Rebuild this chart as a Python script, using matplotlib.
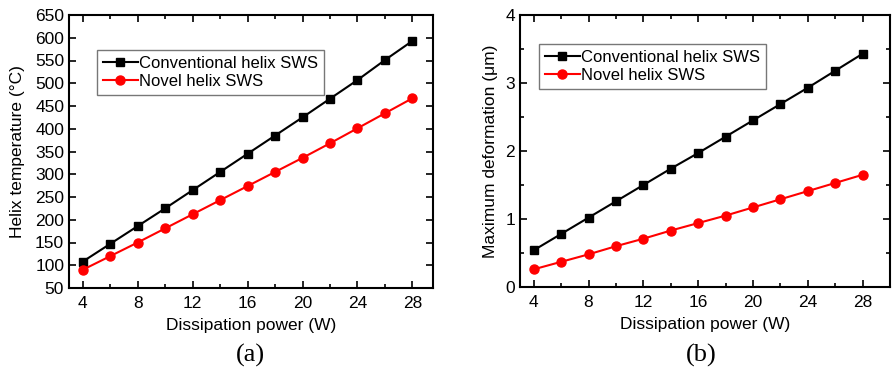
import matplotlib
matplotlib.use('Agg')
import matplotlib.pyplot as plt
from matplotlib.ticker import MultipleLocator

plt.rcParams['font.family'] = ['Liberation Sans', 'DejaVu Sans']

power = [4, 6, 8, 10, 12, 14, 16, 18, 20, 22, 24, 26, 28]

# (a) helix temperature, degC
temp_conv = [108, 147, 186, 225, 265, 305, 345, 385, 425, 466, 507, 551, 593]
temp_novel = [90, 120, 150, 181, 212, 243, 274, 305, 336, 368, 401, 434, 467]

# (b) maximum deformation, um
def_conv = [0.54, 0.78, 1.02, 1.26, 1.50, 1.74, 1.97, 2.21, 2.45, 2.69, 2.93, 3.18, 3.43]
def_novel = [0.26, 0.37, 0.48, 0.60, 0.71, 0.83, 0.94, 1.05, 1.17, 1.29, 1.41, 1.53, 1.65]

labels = ['Conventional helix SWS', 'Novel helix SWS']

fig = plt.figure(figsize=(8.92, 3.74), dpi=100)
axA = fig.add_axes([69/892, 1-288/374, (433-69)/892, (288-15)/374])
axB = fig.add_axes([520/892, 1-287/374, (890-520)/892, (287-15)/374])


def style(ax):
    for s in ax.spines.values():
        s.set_linewidth(1.5)
    ax.tick_params(which='both', direction='in', top=True, right=True,
                   labelsize=12.5, width=1.2)
    ax.tick_params(which='major', length=5)
    ax.tick_params(which='minor', length=3)
    ax.tick_params(axis='x', pad=6)
    ax.xaxis.set_major_locator(MultipleLocator(4))
    ax.xaxis.set_minor_locator(MultipleLocator(2))
    ax.set_xlabel('Dissipation power (W)', fontsize=12.5, labelpad=5)


def legend(ax, loc):
    leg = ax.legend(loc='upper left', bbox_to_anchor=loc, fontsize=12,
                    frameon=True, fancybox=False, handlelength=2.1,
                    handletextpad=0.05, borderpad=0.35, labelspacing=0.2,
                    borderaxespad=0)
    leg.get_frame().set_edgecolor('#555555')
    leg.get_frame().set_linewidth(1.0)


axA.plot(power, temp_conv, color='black', marker='s', ms=6, lw=1.5, label=labels[0])
axA.plot(power, temp_novel, color='red', marker='o', ms=6.5, lw=1.5, label=labels[1])
axA.set_xlim(3, 29.5)
axA.set_ylim(50, 650)
axA.yaxis.set_major_locator(MultipleLocator(50))
axA.set_ylabel('Helix temperature (°C)', fontsize=12.5, labelpad=7)
style(axA)
axA.tick_params(axis='y', which='minor', left=False, right=False)
legend(axA, ((97-69)/364, (288-50)/273))

axB.plot(power, def_conv, color='black', marker='s', ms=6, lw=1.5, label=labels[0])
axB.plot(power, def_novel, color='red', marker='o', ms=6.5, lw=1.5, label=labels[1])
axB.set_xlim(3, 30)
axB.set_ylim(0, 4)
axB.yaxis.set_major_locator(MultipleLocator(1))
axB.yaxis.set_minor_locator(MultipleLocator(0.5))
axB.set_ylabel('Maximum deformation (μm)', fontsize=12.5, labelpad=5)
style(axB)
legend(axB, ((539-520)/370, (287-44)/272))

fig.text(250/892, 1-355/374, '(a)', family='Liberation Serif', fontsize=19,
         ha='center', va='center')
fig.text(701/892, 1-355/374, '(b)', family='Liberation Serif', fontsize=19,
         ha='center', va='center')

fig.savefig('out.png', dpi=100)
